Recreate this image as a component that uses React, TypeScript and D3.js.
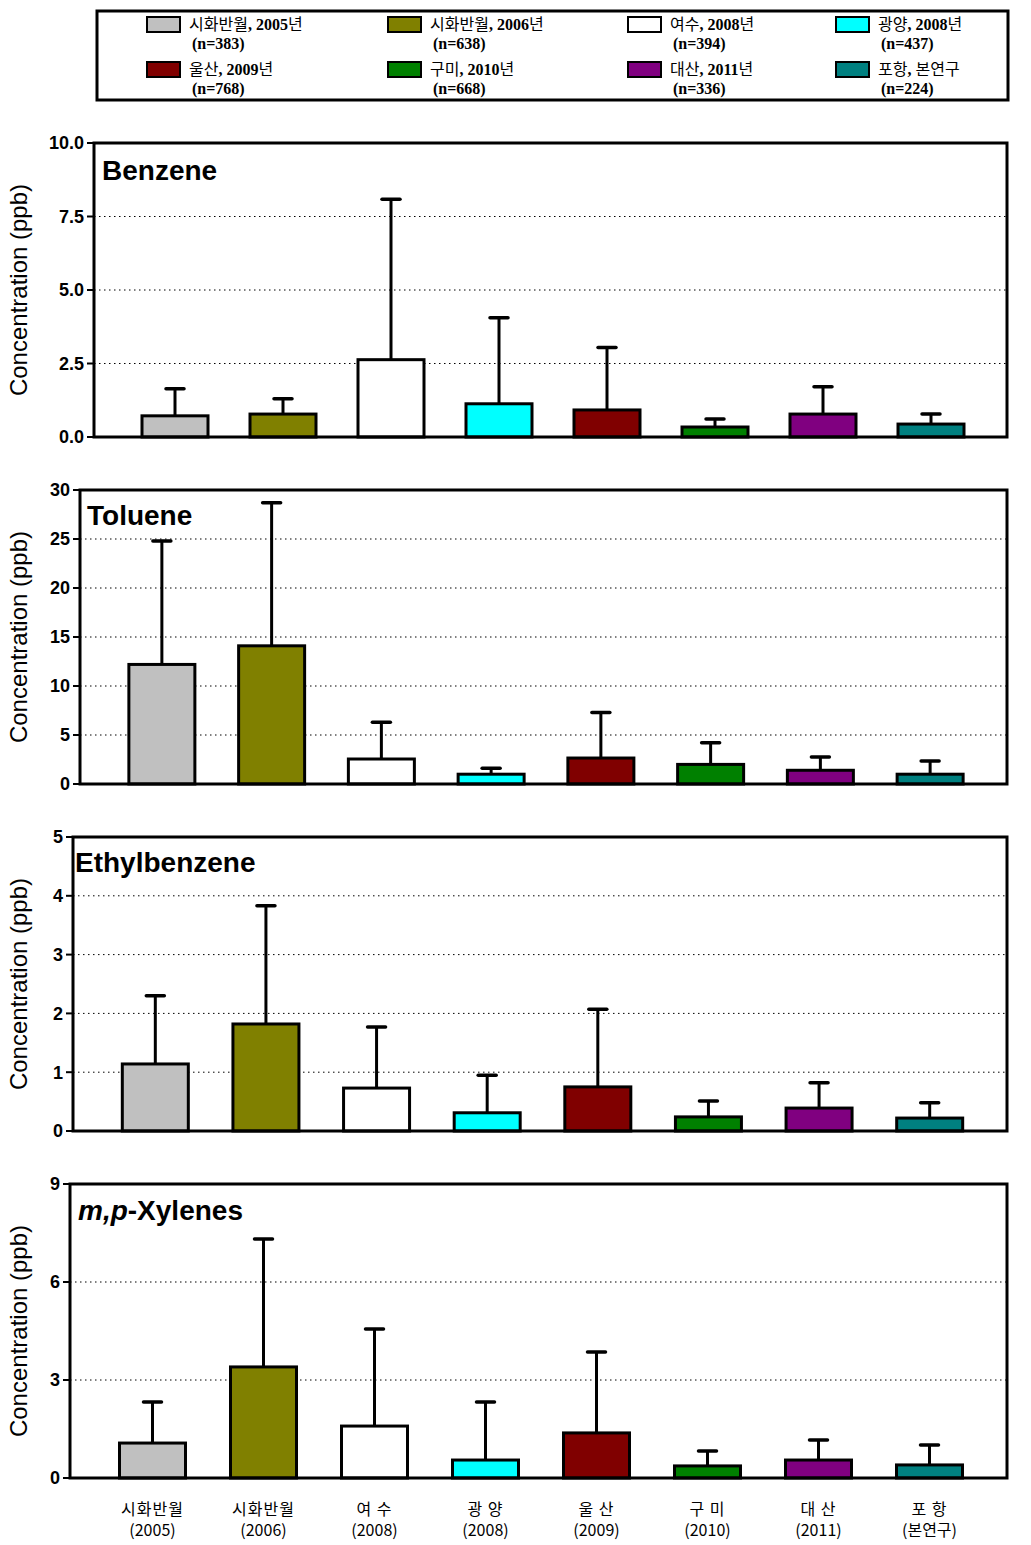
import React from "react";
import * as d3 from "d3";

const categories = ["시화반월", "시화반월", "여 수", "광 양", "울 산", "구 미", "대 산", "포 항"];
const catSub = ["(2005)", "(2006)", "(2008)", "(2008)", "(2009)", "(2010)", "(2011)", "(본연구)"];
const legendNames = ["시화반월", "시화반월", "여수", "광양", "울산", "구미", "대산", "포항"];
const legendYears = ["2005년", "2006년", "2008년", "2008년", "2009년", "2010년", "2011년", "본연구"];
const legendN = ["(n=383)", "(n=638)", "(n=394)", "(n=437)", "(n=768)", "(n=668)", "(n=336)", "(n=224)"];
const colors = ["#C0C0C0", "#808000", "#FFFFFF", "#00FFFF", "#800000", "#008000", "#800080", "#008080"];

const benzeneMean = [0.72, 0.78, 2.63, 1.13, 0.92, 0.34, 0.78, 0.44];
const benzeneTop = [1.64, 1.3, 8.09, 4.06, 3.04, 0.61, 1.71, 0.78];
const tolueneMean = [12.2, 14.1, 2.55, 1.0, 2.65, 2.0, 1.4, 1.0];
const tolueneTop = [24.8, 28.7, 6.3, 1.6, 7.3, 4.2, 2.75, 2.35];
const ethylMean = [1.14, 1.82, 0.73, 0.31, 0.75, 0.24, 0.39, 0.22];
const ethylTop = [2.3, 3.83, 1.77, 0.95, 2.07, 0.51, 0.82, 0.48];
const xylMean = [1.07, 3.4, 1.59, 0.55, 1.38, 0.37, 0.55, 0.4];
const xylTop = [2.33, 7.32, 4.56, 2.33, 3.86, 0.83, 1.16, 1.01];

const benzeneTicks = [0, 2.5, 5, 7.5, 10];
const tolueneTicks = [0, 5, 10, 15, 20, 25, 30];
const ethylTicks = [0, 1, 2, 3, 4, 5];
const xylTicks = [0, 3, 6, 9];

const panels = [
  { name: "Benzene", mean: benzeneMean, top: benzeneTop, ticks: benzeneTicks, fmt: (v: number) => v.toFixed(1), left: 94, y0: 143, tx: 102, ty: 180 },
  { name: "Toluene", mean: tolueneMean, top: tolueneTop, ticks: tolueneTicks, fmt: (v: number) => String(v), left: 80, y0: 490, tx: 87, ty: 525 },
  { name: "Ethylbenzene", mean: ethylMean, top: ethylTop, ticks: ethylTicks, fmt: (v: number) => String(v), left: 73, y0: 837, tx: 75, ty: 872 },
  { name: "xyl", mean: xylMean, top: xylTop, ticks: xylTicks, fmt: (v: number) => String(v), left: 70, y0: 1184, tx: 78, ty: 1220 },
];

const RIGHT = 1007;
const PH = 294;
const BARW = 66;
const KFONT = "'Noto Sans CJK KR', sans-serif";
const SFONT = "'Liberation Serif', serif";
const AFONT = "'Liberation Sans', Arial, sans-serif";

function Panel({ p }: { p: typeof panels[number] }) {
  const idx = d3.range(categories.length).map(String);
  const x = d3.scaleBand<string>().domain(idx).range([p.left + 27, 985]).padding(0);
  const maxT = p.ticks[p.ticks.length - 1];
  const y = d3.scaleLinear().domain([0, maxT]).range([p.y0 + PH, p.y0]);
  const cx = (i: number) => (x(String(i)) as number) + x.bandwidth() / 2;
  return (
    <g>
      {p.ticks.filter((t) => t > 0 && t < maxT).map((t) => (
        <line key={"g" + t} x1={p.left} x2={RIGHT} y1={y(t)} y2={y(t)} stroke="#000" strokeWidth={1} strokeDasharray="1.5,3.5" />
      ))}
      {p.ticks.map((t) => (
        <g key={"t" + t}>
          <line x1={p.left - 7} x2={p.left} y1={y(t)} y2={y(t)} stroke="#000" strokeWidth={2} />
          <text x={p.left - 10} y={y(t)} dy="0.36em" textAnchor="end" fontFamily={AFONT} fontWeight="bold" fontSize={18}>{p.fmt(t)}</text>
        </g>
      ))}
      {p.mean.map((m, i) => (
        <g key={"b" + i}>
          <line x1={cx(i)} x2={cx(i)} y1={y(m)} y2={y(p.top[i])} stroke="#000" strokeWidth={3} />
          <line x1={cx(i) - 9} x2={cx(i) + 9} y1={y(p.top[i])} y2={y(p.top[i])} stroke="#000" strokeWidth={3.5} strokeLinecap="round" />
          <rect x={cx(i) - BARW / 2} y={y(m)} width={BARW} height={y(0) - y(m)} fill={colors[i]} stroke="#000" strokeWidth={3} />
        </g>
      ))}
      <rect x={p.left} y={p.y0} width={RIGHT - p.left} height={PH} fill="none" stroke="#000" strokeWidth={3} />
      {p.name === "xyl" ? (
        <text x={p.tx} y={p.ty} fontFamily={AFONT} fontWeight="bold" fontSize={28}>
          <tspan fontStyle="italic">m,p</tspan>-Xylenes
        </text>
      ) : (
        <text x={p.tx} y={p.ty} fontFamily={AFONT} fontWeight="bold" fontSize={28}>{p.name}</text>
      )}
      <text transform={`translate(27,${p.y0 + PH / 2}) rotate(-90)`} textAnchor="middle" fontFamily={AFONT} fontSize={24}>Concentration (ppb)</text>
    </g>
  );
}

export default function App() {
  const legCols = [147, 388, 628, 836];
  const last = panels[3];
  const xb = d3.scaleBand<string>().domain(d3.range(8).map(String)).range([last.left + 27, 985]);
  return (
    <svg width={1031} height={1545} style={{ position: "absolute", left: 0, top: 0, background: "#fff" }}>
      <rect x={0} y={0} width={1031} height={1545} fill="#fff" />
      <rect x={97} y={11} width={911} height={89} fill="none" stroke="#000" strokeWidth={3} />
      {legendNames.map((n, i) => {
        const col = i % 4;
        const row = Math.floor(i / 4);
        const lx = legCols[col];
        const ly = 17 + row * 45;
        const isText = legendYears[i] === "본연구";
        return (
          <g key={"l" + i}>
            <rect x={lx} y={ly} width={33} height={15} fill={colors[i]} stroke="#000" strokeWidth={2} />
            <text x={lx + 42} y={ly + 13} fontSize={16}>
              <tspan fontFamily={KFONT}>{n}</tspan>
              <tspan fontFamily={SFONT} fontWeight="bold">, </tspan>
              {isText ? (
                <tspan fontFamily={KFONT}>{legendYears[i]}</tspan>
              ) : (
                <>
                  <tspan fontFamily={SFONT} fontWeight="bold">{legendYears[i].replace("년", "")}</tspan>
                  <tspan fontFamily={KFONT}>년</tspan>
                </>
              )}
            </text>
            <text x={lx + 45} y={ly + 32} fontFamily={SFONT} fontWeight="bold" fontSize={16}>{legendN[i]}</text>
          </g>
        );
      })}
      {panels.map((p, i) => <Panel key={i} p={p} />)}
      {categories.map((c, i) => {
        const cx = (xb(String(i)) as number) + xb.bandwidth() / 2;
        return (
          <g key={"c" + i}>
            <text x={cx} y={1515} textAnchor="middle" fontFamily={KFONT} fontSize={16} letterSpacing={1}>{c}</text>
            <text x={cx} y={1536} textAnchor="middle" fontFamily={KFONT} fontSize={16}>{catSub[i]}</text>
          </g>
        );
      })}
    </svg>
  );
}
